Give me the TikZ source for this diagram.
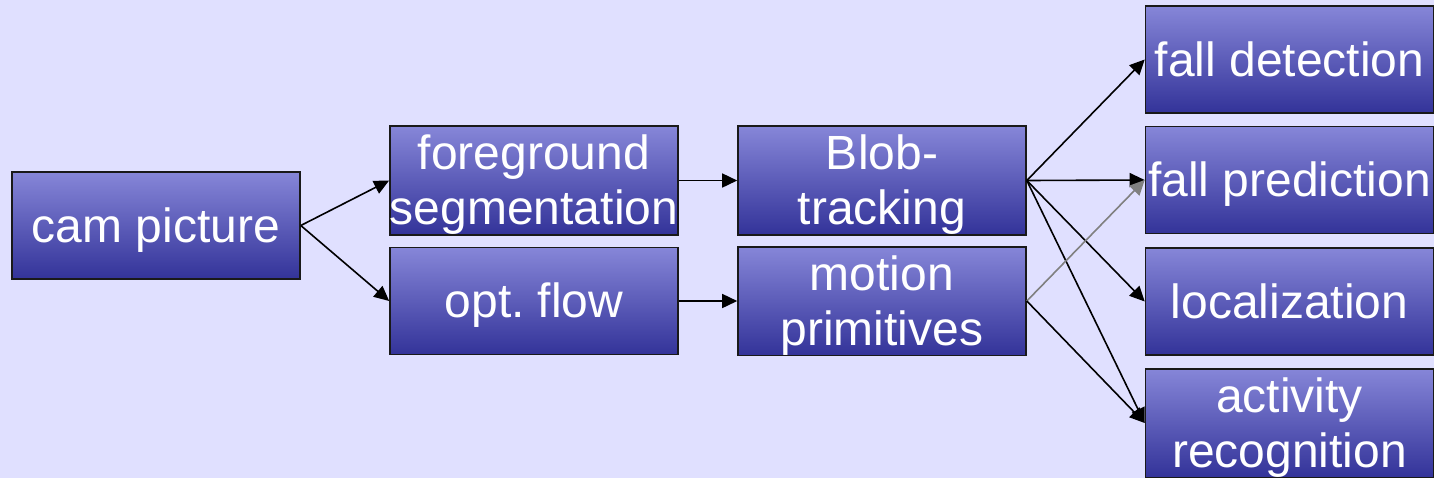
\documentclass[tikz,border=0pt]{standalone}
\usepackage{fontspec}
\setmainfont{Liberation Sans}
\usetikzlibrary{arrows.meta}
\definecolor{bg}{RGB}{224,224,255}
\definecolor{boxtop}{RGB}{134,134,216}
\definecolor{boxbot}{RGB}{51,51,153}
\definecolor{grayarrow}{RGB}{128,128,128}
\begin{document}
\begin{tikzpicture}[x=0.5pt,y=-0.5pt,
  box/.style={rectangle, draw=black!90, line width=0.8pt, top color=boxtop, bottom color=boxbot,
    minimum width=144pt, minimum height=53.5pt, inner sep=0pt, text=white,
    font=\fontsize{24}{27.5}\selectfont\frenchspacing, align=center,
    text height=21.7pt, text depth=5.1pt},
  twoline/.style={text height=49.2pt},
  conn/.style={line width=0.8pt, -{Triangle[length=7.5pt,width=7pt]}},
  grayconn/.style={conn, draw=grayarrow, fill=grayarrow},
]
\fill[bg] (0,0) rectangle (1434,478);
\useasboundingbox (0,0) rectangle (1434,478);

\node[box] (cam)  at (156,225.5)  {cam picture};
\node[box,twoline] (fg)   at (534,180.5)  {foreground\\segmentation};
\node[box] (of)   at (534,301)    {opt. flow};
\node[box,twoline] (blob) at (882,180.5)  {Blob-\\tracking};
\node[box,twoline] (mp)   at (882,301)    {motion\\primitives};
\node[box] (fd)   at (1289.5,59.5) {fall detection};
\node[box] (fp)   at (1289.5,180)  {fall prediction};
\node[box] (loc)  at (1289.5,301.5) {localization};
\node[box,twoline] (act)  at (1289.5,423)   {activity\\recognition};

\draw[conn] (cam.east) -- (fg.west);
\draw[conn] (cam.east) -- (of.west);
\draw[conn] (fg.east) -- (blob.west);
\draw[conn] (of.east) -- (mp.west);
\draw[conn] (blob.east) -- (fd.west);
\draw[conn] (blob.east) -- (fp.west);
\draw[conn] (blob.east) -- (loc.west);
\draw[conn] (blob.east) -- (act.west);
\draw[grayconn] (mp.east) -- (fp.west);
\draw[conn] (mp.east) -- (act.west);
\end{tikzpicture}
\end{document}
